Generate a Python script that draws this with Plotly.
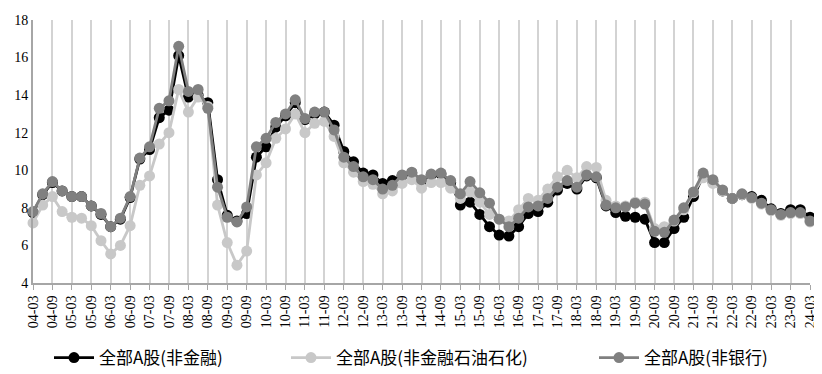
import plotly.graph_objects as go

# quarterly categories 2004-03 .. 2024-03
years = [f"{y:02d}" for y in range(4, 25)]
categories = [f"{y}-{m}" for y in years for m in ["03", "06", "09", "12"]][:81]
tick_labels = [c for c in categories if c.endswith("-03") or c.endswith("-09")]

nonfin = [7.75, 8.7, 9.35, 8.9, 8.6, 8.6, 8.1, 7.65, 7.0, 7.4, 8.55, 10.6, 11.1, 12.8, 13.2, 16.1,
          13.9, 14.0, 13.6, 9.5, 7.6, 7.3, 7.7, 10.7, 11.25, 12.3, 12.9, 13.6, 12.7, 13.0, 13.1,
          12.4, 11.0, 10.45, 9.85, 9.75, 9.3, 9.45, 9.7, 9.85, 9.4, 9.75, 9.8, 9.35, 8.15, 8.3,
          7.65, 7.0, 6.55, 6.5, 7.0, 7.7, 7.8, 8.3, 8.95, 9.3, 9.0, 9.7, 9.6, 8.1, 7.75, 7.55,
          7.5, 7.4, 6.15, 6.15, 6.9, 7.5, 8.6, 9.7, 9.4, 8.9, 8.5, 8.7, 8.6, 8.4, 7.95, 7.7,
          7.9, 7.9, 7.5]
nonfin_ex_oil = [7.2, 8.15, 8.6, 7.8, 7.5, 7.45, 7.05, 6.25, 5.55, 6.0, 7.05, 9.2, 9.7, 11.4, 12.0,
                 14.3, 13.1, 13.9, 13.4, 8.15, 6.15, 4.95, 5.7, 9.75, 10.4, 11.7, 12.2, 13.0, 12.0,
                 12.5, 12.6, 11.8, 10.4, 9.9, 9.4, 9.25, 8.75, 8.9, 9.3, 9.5, 9.05, 9.35, 9.35,
                 9.05, 8.5, 8.85, 8.3, 7.65, 7.4, 7.3, 7.9, 8.5, 8.4, 9.0, 9.65, 10.0, 9.6, 10.2,
                 10.15, 8.4, 8.1, 8.1, 8.3, 8.3, 6.9, 7.0, 7.3, 7.9, 8.8, 9.6, 9.3, 8.9, 8.5, 8.7,
                 8.5, 8.2, 7.85, 7.6, 7.7, 7.7, 7.25]
nonbank = [7.8, 8.75, 9.4, 8.9, 8.6, 8.6, 8.1, 7.7, 7.0, 7.45, 8.6, 10.65, 11.25, 13.3, 13.7, 16.6,
           14.2, 14.3, 13.3, 9.1, 7.5, 7.25, 8.05, 11.25, 11.7, 12.55, 13.0, 13.75, 12.75, 13.1,
           13.1, 12.15, 10.7, 10.2, 9.65, 9.5, 9.0, 9.2, 9.75, 9.9, 9.5, 9.8, 9.85, 9.45, 8.75,
           9.4, 8.8, 8.25, 7.4, 7.0, 7.45, 8.05, 8.1, 8.5, 9.1, 9.45, 9.1, 9.75, 9.65, 8.15, 8.0,
           8.05, 8.25, 8.2, 6.75, 6.7, 7.35, 8.0, 8.85, 9.85, 9.5, 8.95, 8.5, 8.75, 8.55, 8.25,
           7.9, 7.65, 7.75, 7.75, 7.3]

series = [
    ("全部A股(非金融)", nonfin, "#000000", "legend"),
    ("全部A股(非金融石油石化)", nonfin_ex_oil, "#c8c8c8", "legend2"),
    ("全部A股(非银行)", nonbank, "#808080", "legend3"),
]

W, H = 814, 366  # page body has an 8px margin

fig = go.Figure()
for name, vals, col, lg in series:
    fig.add_trace(go.Scatter(
        x=categories, y=vals, name=name, mode="lines+markers",
        line=dict(color=col, width=2.8),
        marker=dict(color=col, size=11),
        cliponaxis=False, legend=lg,
    ))

legend_font = dict(family="Noto Sans CJK SC", size=17, color="#000000")
def lg(xpx):
    return dict(orientation="h", xref="container", yref="container",
                x=xpx / W, xanchor="left", y=(H - 350) / H, yanchor="middle",
                font=legend_font, bgcolor="rgba(0,0,0,0)", itemwidth=40)

fig.update_layout(
    width=W, height=H,
    margin=dict(l=25, r=12, t=12, b=91, autoexpand=False),
    paper_bgcolor="white", plot_bgcolor="white",
    font=dict(family="Liberation Serif", size=13, color="#000000"),
    showlegend=True,
    legend=lg(41), legend2=lg(278), legend3=lg(586),
    xaxis=dict(
        type="category", categoryorder="array", categoryarray=categories,
        range=[0, 80], automargin=False,
        tickmode="array", tickvals=tick_labels, ticktext=tick_labels,
        tickangle=-90, showgrid=True, gridcolor="#d3d3d3", gridwidth=2,
        showline=True, linecolor="#a6a6a6", linewidth=2,
        ticks="outside", ticklen=5, tickcolor="#a6a6a6",
        tickfont=dict(family="Liberation Serif", size=14, color="#000000"),
        zeroline=False,
    ),
    yaxis=dict(
        range=[4, 18], tickmode="array", tickvals=[4, 6, 8, 10, 12, 14, 16, 18],
        showgrid=False, showline=True, linecolor="#a6a6a6", linewidth=2,
        ticks="", zeroline=False, automargin=False,
        tickfont=dict(family="Liberation Serif", size=14, color="#000000"),
    ),
)

fig.write_html("out.html")
